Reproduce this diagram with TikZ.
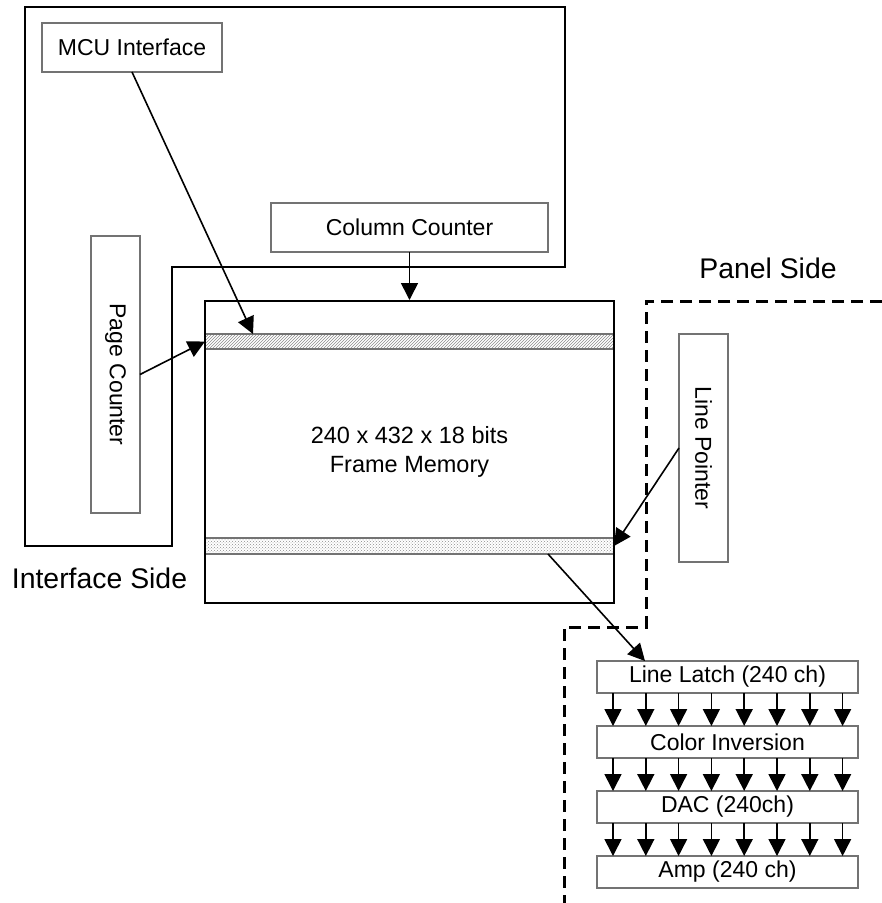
\documentclass[tikz,border=0pt]{standalone}
\usepackage{fontspec}
\setmainfont{Liberation Sans}
\usetikzlibrary{arrows.meta,positioning,patterns}

\begin{document}
\begin{tikzpicture}[x=1pt,y=-1pt,box/.style={draw=black!55,line width=1.1pt,inner sep=0pt,outer sep=0pt,font=\fontsize{23}{29}\selectfont},stripe/.style={draw=black!55,line width=1.2pt,inner sep=0pt,outer sep=0pt,minimum width=409pt},stack/.style={box,minimum width=261pt,minimum height=32pt},side/.style={font=\fontsize{28.4}{34}\selectfont},arr/.style={-{Triangle[length=17pt,width=17pt]},line width=1.6pt},node distance=33pt]
\useasboundingbox (0,0) rectangle (882,903);
% interface side
\draw[line width=2pt] (25,7)--(565,7)--(565,267)--(172,267)--(172,546)--(25,546)--cycle;
\node[side] (iside) at (99.5,578) {Interface Side};
\node[box,minimum width=180pt,minimum height=49pt] (mcu) at (132,47.5) {MCU Interface};
\node[box,minimum width=277pt,minimum height=49pt] (colcnt) at (409.5,227.5) {Column Counter};
\node[box,rotate=-90,minimum width=277pt,minimum height=49pt] (pagecnt) at (115.5,374.5) {Page Counter};
% frame memory
\node[stripe,minimum height=15pt,pattern=north east lines,pattern color=black!45] (rowA) at (409.5,341.5) {};
\node[stripe,minimum height=16pt,pattern=crosshatch dots,pattern color=black!45] (rowB) at (409.5,546) {};
\node[draw,line width=2pt,inner sep=0pt,minimum width=409pt,minimum height=302pt,align=center,font=\fontsize{23.5}{29}\selectfont] (mem) at (409.5,452) {240 x 432 x 18 bits\\Frame Memory};
% panel side
\draw[line width=3pt,dash pattern=on 12pt off 7pt] (882,301)--(646,301)--(646,627)--(564,627)--(564,903);
\node[side] (pside) at (768,268) {Panel Side};
\node[box,rotate=-90,minimum width=228pt,minimum height=49pt] (linept) at (703.5,448) {Line Pointer};
\node[stack] (lat) at (727.5,677) {Line Latch (240 ch)};
\node[stack,below=of lat] (inv) {Color Inversion};
\node[stack,below=of inv] (dac) {DAC (240ch)};
\node[stack,below=of dac] (amp) {Amp (240 ch)};
\coordinate (mcuIn) at ([xshift=48pt]rowA.north west);
\coordinate (rowOut) at ([xshift=343pt]rowB.south west);
\coordinate (latIn) at ([xshift=48pt]lat.north west);
\draw[arr] (mcu.south)--(mcuIn);
\draw[arr] (colcnt.south)--(mem.north);
\draw[arr] (pagecnt.north)--(rowA.west);
\draw[arr] (linept.south)--(rowB.east);
\draw[arr] (rowOut)--(latIn);
\foreach \u/\v in {lat/inv,inv/dac,dac/amp}
  \foreach \i in {0,...,7}
    \draw[arr] ([xshift={16+32.8*\i}]\u.south west)--([xshift={16+32.8*\i}]\v.north west);
\end{tikzpicture}
\end{document}
